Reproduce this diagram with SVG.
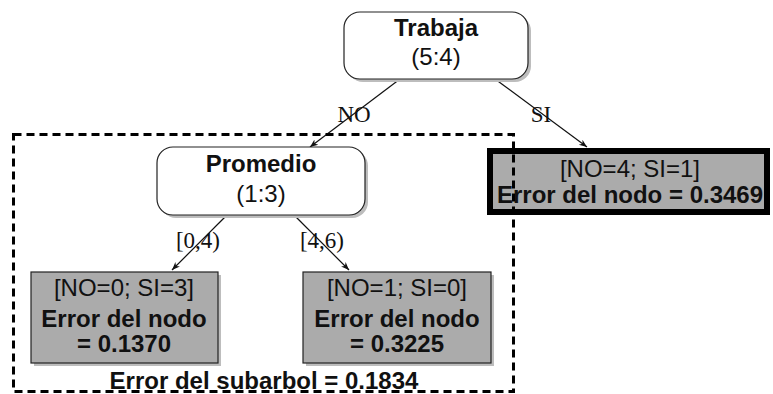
<svg xmlns="http://www.w3.org/2000/svg" width="773" height="394" viewBox="0 0 773 394">
<defs>
<marker id="ah" viewBox="0 0 10 10" refX="10" refY="5" markerWidth="8" markerHeight="8" markerUnits="userSpaceOnUse" orient="auto"><path d="M0,1 L10,5 L0,9 L3,5 Z" fill="#111"/></marker>
<style>
.n{fill:#fff;stroke:#222;stroke-width:1.2}
.sh{fill:#bdbdbd}
.lf{fill:#ababab;stroke:#222;stroke-width:1.2}
.t{font-family:"Liberation Sans",Arial,sans-serif;font-size:24px;fill:#111;text-anchor:middle}
.b{font-weight:bold}
.el{font-family:"Liberation Serif","Times New Roman",serif;font-size:23px;fill:#111;text-anchor:middle}
.e{stroke:#111;stroke-width:1.2;fill:none;marker-end:url(#ah)}
</style>
</defs>
<rect width="773" height="394" fill="#fff"/>
<g id="connectors">
<line class="e" x1="400" y1="79" x2="310" y2="147"/>
<line class="e" x1="495" y1="79" x2="587" y2="147"/>
<line class="e" x1="227" y1="215" x2="172" y2="270"/>
<line class="e" x1="294" y1="215" x2="349" y2="270"/>
<text class="el" x="354" y="122">NO</text>
<text class="el" x="541" y="122">SI</text>
<text class="el" x="198" y="248">[0,4)</text>
<text class="el" x="322" y="248">[4,6)</text>
</g>
<g id="trabaja">
<rect class="sh" x="347" y="15" width="184" height="67" rx="16"/>
<rect class="n" x="344" y="12" width="184" height="67" rx="16"/>
<text class="t b" x="436" y="36">Trabaja</text>
<text class="t" x="436" y="65">(5:4)</text>
</g>
<g id="promedio">
<rect class="sh" x="160" y="150" width="208" height="68" rx="16"/>
<rect class="n" x="157" y="147" width="208" height="68" rx="16"/>
<text class="t b" x="261" y="172">Promedio</text>
<text class="t" x="261" y="202">(1:3)</text>
</g>
<g id="leaf-si">
<rect class="sh" x="493" y="154" width="277" height="61"/>
<rect x="490" y="151" width="277" height="61" fill="#ababab" stroke="#000" stroke-width="6"/>
<text class="t" x="630" y="177">[NO=4; SI=1]</text>
<text class="t b" x="630" y="203">Error del nodo = 0.3469</text>
</g>
<g id="leaf-04">
<rect class="sh" x="34" y="275" width="187" height="91"/>
<rect class="lf" x="31" y="272" width="187" height="91"/>
<text class="t" x="124" y="296">[NO=0; SI=3]</text>
<text class="t b" x="124" y="327">Error del nodo</text>
<text class="t b" x="124" y="352">= 0.1370</text>
</g>
<g id="leaf-46">
<rect class="sh" x="306" y="275" width="188" height="91"/>
<rect class="lf" x="303" y="272" width="188" height="91"/>
<text class="t" x="397" y="296">[NO=1; SI=0]</text>
<text class="t b" x="397" y="327">Error del nodo</text>
<text class="t b" x="397" y="352">= 0.3225</text>
</g>
<g id="subtree-box">
<rect x="13.5" y="134.5" width="500" height="257" fill="none" stroke="#000" stroke-width="3" stroke-dasharray="8,5"/>
<text class="t b" x="264" y="389">Error del subarbol = 0.1834</text>
</g>
</svg>
